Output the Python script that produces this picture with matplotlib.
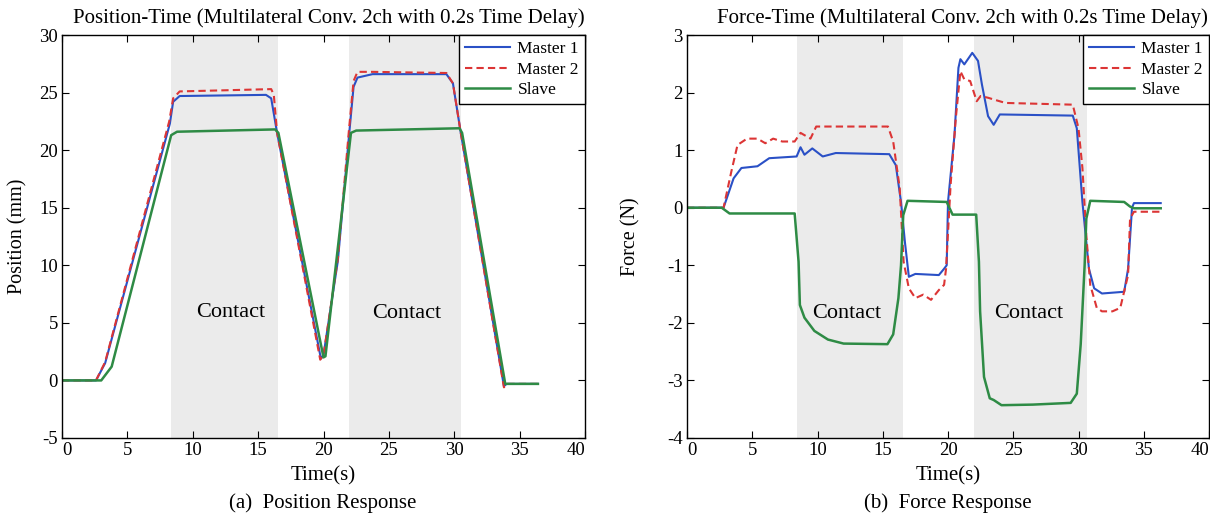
import matplotlib.pyplot as plt

plt.rcParams['font.family'] = ['Liberation Serif', 'DejaVu Serif']
plt.rcParams['axes.unicode_minus'] = False

# Position response (mm)
pos_m1_t = [0, 2.6, 3.3, 8.25, 8.5, 9.0, 15.6, 16.0, 16.45, 19.8, 20.0, 21.1, 21.97, 22.3, 22.6, 23.75, 29.4, 29.9, 30.5, 33.8, 34.0, 36.4]
pos_m1_y = [0, 0, 1.5, 22.3, 24.2, 24.7, 24.8, 24.5, 21.5, 1.9, 2.2, 10.4, 21.5, 25.5, 26.3, 26.6, 26.6, 25.8, 21.5, -0.5, -0.3, -0.3]
pos_m2_t = [0, 2.6, 3.3, 8.2, 8.5, 9.0, 16.0, 16.2, 16.45, 19.75, 20.0, 21.1, 21.95, 22.3, 22.6, 23.75, 29.4, 29.9, 30.5, 33.8, 34.0, 36.4]
pos_m2_y = [0, 0, 1.6, 22.5, 24.5, 25.1, 25.3, 24.8, 21.5, 1.8, 2.2, 10.6, 21.8, 26.0, 26.8, 26.8, 26.7, 25.8, 21.5, -0.6, -0.3, -0.3]
pos_s_t = [0, 3.0, 3.8, 8.35, 8.8, 16.3, 16.55, 20.0, 20.15, 22.1, 22.5, 30.4, 30.6, 33.9, 36.4]
pos_s_y = [0, 0, 1.2, 21.3, 21.6, 21.8, 21.5, 2.0, 2.1, 21.5, 21.7, 21.9, 21.5, -0.3, -0.3]

# Force response (N)
f_m1_t = [0, 2.8, 3.57, 4.17, 5.4, 6.3, 8.4, 8.7, 9.0, 9.6, 10.4, 11.4, 15.5, 16.0, 16.4, 16.7, 17.0, 17.5, 19.3, 19.7, 19.9, 20.0, 20.5, 20.8, 20.95, 21.25, 21.86, 22.3, 22.6, 23.07, 23.5, 23.97, 29.56, 29.87, 30.3, 30.8, 31.2, 31.8, 33.5, 33.8, 34.1, 34.25, 36.3]
f_m1_y = [0, 0, 0.51, 0.69, 0.72, 0.86, 0.89, 1.05, 0.92, 1.03, 0.89, 0.95, 0.93, 0.74, 0.1, -0.6, -1.2, -1.15, -1.17, -1.06, -1.0, 0.1, 1.27, 2.43, 2.58, 2.49, 2.69, 2.55, 2.14, 1.59, 1.44, 1.62, 1.6, 1.38, 0.1, -1.06, -1.4, -1.49, -1.46, -1.06, 0.0, 0.08, 0.08]
f_m2_t = [0, 2.8, 3.4, 3.87, 4.6, 5.4, 6.0, 6.6, 7.3, 8.25, 8.7, 9.46, 9.9, 15.4, 15.8, 16.3, 16.6, 17.0, 17.5, 18.1, 18.7, 19.3, 19.7, 19.85, 20.2, 20.6, 20.95, 21.25, 21.7, 22.2, 22.5, 23.07, 23.5, 24.4, 29.56, 30.0, 30.3, 30.6, 30.9, 31.4, 31.8, 32.6, 33.2, 33.8, 33.95, 34.25, 36.3]
f_m2_y = [0, 0, 0.63, 1.09, 1.2, 1.2, 1.12, 1.2, 1.15, 1.15, 1.3, 1.2, 1.41, 1.41, 1.15, 0.34, -0.94, -1.4, -1.57, -1.51, -1.6, -1.43, -1.34, -1.06, 0.4, 1.56, 2.37, 2.23, 2.2, 1.85, 1.94, 1.91, 1.88, 1.82, 1.79, 1.38, 0.69, -0.48, -1.34, -1.74, -1.8, -1.8, -1.74, -1.17, -0.19, -0.07, -0.07]
f_s_t = [0, 2.66, 3.26, 8.25, 8.55, 8.65, 9.0, 9.76, 10.8, 12.0, 15.36, 15.8, 16.2, 16.4, 16.57, 16.9, 19.9, 20.35, 22.16, 22.37, 22.46, 22.76, 23.2, 23.5, 24.1, 26.5, 29.4, 29.87, 30.17, 30.47, 30.6, 30.9, 33.5, 33.95, 34.25, 36.3]
f_s_y = [0, 0, -0.1, -0.1, -0.94, -1.69, -1.91, -2.14, -2.29, -2.36, -2.37, -2.2, -1.57, -1.0, -0.13, 0.12, 0.1, -0.12, -0.12, -0.94, -1.8, -2.94, -3.31, -3.34, -3.43, -3.42, -3.39, -3.23, -2.37, -1.0, -0.19, 0.12, 0.1, 0.02, -0.01, -0.01]

pos_contact = [(8.3, 16.5), (21.95, 30.55)]
force_contact = [(8.43, 16.54), (21.98, 30.65)]

c_m1 = '#2a50c6'
c_m2 = '#dc3535'
c_s = '#2e8b45'

fig = plt.figure(figsize=(12.1, 5.19), dpi=100)
ax1 = fig.add_axes([62 / 1210, 81 / 519, 523 / 1210, 403 / 519])
ax2 = fig.add_axes([687 / 1210, 81 / 519, 522 / 1210, 403 / 519])


def style(ax, ylim, yticks):
    ax.set_xlim(0, 40)
    ax.set_ylim(*ylim)
    ax.set_xticks(range(0, 41, 5))
    ax.set_yticks(yticks)
    ax.tick_params(direction='in', top=True, right=True, length=5, labelsize=13.5, pad=3)
    labels = ax.get_xticklabels()
    labels[0].set_horizontalalignment('left')
    labels[-1].set_horizontalalignment('right')
    for s in ax.spines.values():
        s.set_linewidth(1.0)


def legend(ax):
    ax.legend(loc='upper right', fontsize=12.5, frameon=True, fancybox=False, edgecolor='black',
              borderaxespad=0, handlelength=2.6, borderpad=0.35, labelspacing=0.25, handletextpad=0.4,
              framealpha=1)


dash = (0, (3.5, 2))

for a, b in pos_contact:
    ax1.axvspan(a, b, color='#ebebeb', lw=0, zorder=0)
ax1.plot(pos_m1_t, pos_m1_y, color=c_m1, lw=1.5, label='Master 1')
ax1.plot(pos_m2_t, pos_m2_y, color=c_m2, lw=1.5, ls=dash, label='Master 2')
ax1.plot(pos_s_t, pos_s_y, color=c_s, lw=1.8, label='Slave')
style(ax1, (-5, 30), range(-5, 31, 5))
ax1.text(12.9, 5.9, 'Contact', ha='center', va='center', fontsize=16)
ax1.text(26.4, 5.85, 'Contact', ha='center', va='center', fontsize=16)
t1 = ax1.set_title('Position-Time (Multilateral Conv. 2ch with 0.2s Time Delay)', fontsize=15, pad=9)
t1.set_x(0.5105)
ax1.set_ylabel('Position (mm)', fontsize=14.5)
ax1.yaxis.set_label_coords(-0.066, 0.5)
ax1.set_xlabel('Time(s)', fontsize=15, labelpad=5)
legend(ax1)

for a, b in force_contact:
    ax2.axvspan(a, b, color='#ebebeb', lw=0, zorder=0)
ax2.plot(f_m1_t, f_m1_y, color=c_m1, lw=1.5, label='Master 1')
ax2.plot(f_m2_t, f_m2_y, color=c_m2, lw=1.5, ls=dash, label='Master 2')
ax2.plot(f_s_t, f_s_y, color=c_s, lw=1.8, label='Slave')
style(ax2, (-4, 3), range(-4, 4))
ax2.text(12.2, -1.83, 'Contact', ha='center', va='center', fontsize=16)
ax2.text(26.2, -1.83, 'Contact', ha='center', va='center', fontsize=16)
t2 = ax2.set_title('Force-Time (Multilateral Conv. 2ch with 0.2s Time Delay)', fontsize=15, pad=9)
t2.set_x(0.527)
ax2.set_ylabel('Force (N)', fontsize=14.5)
ax2.yaxis.set_label_coords(-0.09, 0.5)
ax2.set_xlabel('Time(s)', fontsize=15, labelpad=5)
legend(ax2)

fig.text(323 / 1210, 16 / 519, '(a)  Position Response', ha='center', va='center', fontsize=15)
fig.text(948 / 1210, 16 / 519, '(b)  Force Response', ha='center', va='center', fontsize=15)

fig.savefig('out.png', dpi=100)
